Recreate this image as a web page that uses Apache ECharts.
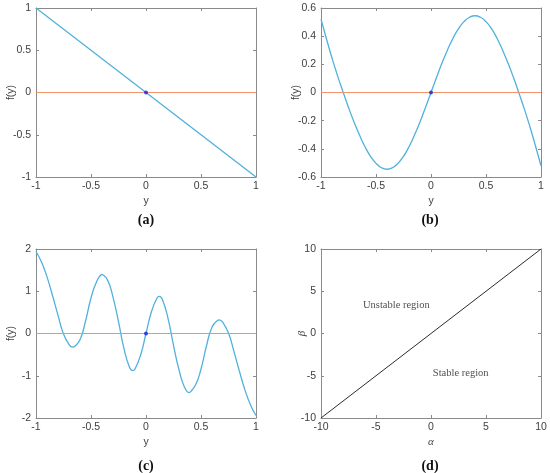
<!DOCTYPE html>
<html>
<head>
<meta charset="utf-8">
<script src="https://cdn.jsdelivr.net/npm/echarts@6/dist/echarts.min.js"></script>
<style>
html,body{margin:0;padding:0;background:#fff;}
#main{width:550px;height:473px;}
</style>
</head>
<body>
<div id="main"></div>
<script>
// ---- data ----
// panel (a): f(y) = line through the two end points
const aY = [-1, 1];
const aF = [1, -1];
// panel (b)
const bY = [-1,-0.95,-0.9,-0.85,-0.8,-0.75,-0.7,-0.65,-0.6,-0.55,-0.5,-0.45,-0.4,-0.35,-0.3,-0.25,-0.2,-0.15,-0.1,-0.05,0,
            0.05,0.1,0.15,0.2,0.25,0.3,0.35,0.4,0.45,0.5,0.55,0.6,0.65,0.7,0.75,0.8,0.85,0.9,0.95,1];
const bF = [0.52,0.38,0.245,0.12,0.005,-0.106,-0.209,-0.302,-0.385,-0.453,-0.503,-0.534,-0.545,-0.534,-0.503,-0.453,-0.385,-0.302,-0.209,-0.106,0,
            0.106,0.209,0.302,0.385,0.453,0.503,0.534,0.545,0.534,0.503,0.453,0.385,0.302,0.209,0.106,-0.005,-0.12,-0.245,-0.38,-0.52];
// panel (c)
const cY = [-1,-0.95,-0.9,-0.85,-0.8,-0.75,-0.7,-0.667,-0.65,-0.6,-0.55,-0.5,-0.45,-0.4,-0.394,-0.35,-0.3,-0.25,-0.2,-0.15,-0.121,-0.1,-0.05,0,
            0.05,0.1,0.121,0.15,0.2,0.25,0.3,0.35,0.394,0.4,0.45,0.5,0.55,0.6,0.65,0.667,0.7,0.75,0.8,0.85,0.9,0.95,1];
const cF = [1.94,1.69,1.34,0.90,0.43,-0.01,-0.26,-0.324,-0.31,-0.15,0.29,0.84,1.22,1.398,1.40,1.27,0.86,0.28,-0.36,-0.80,-0.877,-0.84,-0.52,0,
            0.52,0.84,0.877,0.80,0.36,-0.28,-0.86,-1.27,-1.40,-1.398,-1.22,-0.84,-0.29,0.15,0.31,0.324,0.26,0.01,-0.43,-0.90,-1.34,-1.69,-1.94];
// zero reference line and equilibrium point
const zeroY = [-1, 1];
const zeroF = [0, 0];
const eqY = [0];
const eqF = [0];
// panel (d): stability boundary
const dAlpha = [-10, 10];
const dBeta = [-10, 10];
const regionLabels = ['Unstable region', 'Stable region'];
const regionAlpha = [-3.15, 2.7];
const regionBeta = [3.4, -4.7];
// axis ranges
const xRanges = [[-1,1,0.5],[-1,1,0.5],[-1,1,0.5],[-10,10,5]];
const yRanges = [[-1,1,0.5],[-0.6,0.6,0.2],[-2,2,1],[-10,10,5]];
const xNames = ['y','y','y','α'];
const yNames = ['f(y)','f(y)','f(y)','β'];
const captions = ['(a)','(b)','(c)','(d)'];

// ---- chart ----
const zip = (xs, ys) => xs.map((x, i) => [x, ys[i]]);
const BLUE = '#4fb1dc', ORANGE = '#f2936c', AXIS = '#8a8a8a', TXT = '#404040';
const SANS = 'Liberation Sans, Arial, Helvetica, sans-serif';
const SERIF = 'Liberation Serif, Times New Roman, serif';

const grids = [
  {left: 36, top: 8, width: 220, height: 169},
  {left: 321, top: 8, width: 220, height: 169},
  {left: 36, top: 249, width: 220, height: 169},
  {left: 321, top: 249, width: 220, height: 169}
];

const xAxis = [], yAxis = [];
grids.forEach((g, i) => {
  const xr = xRanges[i], yr = yRanges[i];
  const isD = i === 3;
  const nameStyle = isD ? {fontFamily: SERIF, fontSize: 11, color: TXT, fontStyle: 'italic'} : {fontFamily: SANS, fontSize: 10.5, color: TXT};
  const common = {
    type: 'value', gridIndex: i, splitLine: {show: false}, nameMoveOverlap: false,
    axisLine: {show: true, onZero: false, lineStyle: {color: AXIS, width: 1}},
    axisTick: {show: true, inside: true, length: 3, lineStyle: {color: AXIS}}
  };
  xAxis.push(Object.assign({}, common, {
    position: 'bottom', min: xr[0], max: xr[1], interval: xr[2],
    name: xNames[i], nameLocation: 'middle', nameGap: 19, nameTextStyle: nameStyle,
    axisLabel: {show: true, fontFamily: SANS, fontSize: 10.5, color: TXT, margin: 4, showMinLabel: true, showMaxLabel: true}
  }));
  xAxis.push(Object.assign({}, common, {
    position: 'top', min: xr[0], max: xr[1], interval: xr[2], axisLabel: {show: false}
  }));
  yAxis.push(Object.assign({}, common, {
    position: 'left', min: yr[0], max: yr[1], interval: yr[2],
    name: yNames[i], nameLocation: 'middle', nameGap: isD ? 13 : 19, nameTextStyle: nameStyle,
    axisLabel: {show: true, fontFamily: SANS, fontSize: 10.5, color: TXT, margin: 5, showMinLabel: true, showMaxLabel: true}
  }));
  yAxis.push(Object.assign({}, common, {
    position: 'right', min: yr[0], max: yr[1], interval: yr[2], axisLabel: {show: false}
  }));
});

const series = [];
const curves = [zip(aY, aF), zip(bY, bF), zip(cY, cF)];
curves.forEach((data, i) => {
  series.push({type: 'line', xAxisIndex: 2*i, yAxisIndex: 2*i, data: data,
    smooth: i === 0 ? false : 0.5,
    showSymbol: false, lineStyle: {color: BLUE, width: 1.3}, silent: true, animation: false, z: 2});
  series.push({type: 'line', xAxisIndex: 2*i, yAxisIndex: 2*i, data: zip(zeroY, zeroF),
    showSymbol: false, lineStyle: {color: ORANGE, width: 1.1}, silent: true, animation: false, z: 3});
  series.push({type: 'scatter', xAxisIndex: 2*i, yAxisIndex: 2*i, data: zip(eqY, eqF),
    symbol: 'circle', symbolSize: 4, itemStyle: {color: '#1a1ae6'}, silent: true, animation: false, z: 4});
});
series.push({type: 'line', xAxisIndex: 6, yAxisIndex: 6, data: zip(dAlpha, dBeta),
  showSymbol: false, lineStyle: {color: '#2b2b2b', width: 1}, silent: true, animation: false});
series.push({type: 'scatter', xAxisIndex: 6, yAxisIndex: 6, symbolSize: 0, silent: true, animation: false,
  data: regionLabels.map((t, k) => ({value: [regionAlpha[k], regionBeta[k]], name: t})),
  label: {show: true, position: 'inside', formatter: p => p.name, fontFamily: SERIF, fontSize: 10.5, color: '#222'}});

const capPos = [[146, 220], [430, 220], [146, 466], [430, 466]];
const graphic = captions.map((c, i) => ({
  type: 'text', x: capPos[i][0], y: capPos[i][1],
  style: {text: c, fontFamily: SERIF, fontWeight: 'bold', fontSize: 14, fill: '#111', align: 'center', verticalAlign: 'middle'}
}));

const chart = echarts.init(document.getElementById('main'), null, {renderer: 'canvas'});
chart.setOption({animation: false, grid: grids, xAxis: xAxis, yAxis: yAxis, series: series, graphic: graphic});
</script>
</body>
</html>
